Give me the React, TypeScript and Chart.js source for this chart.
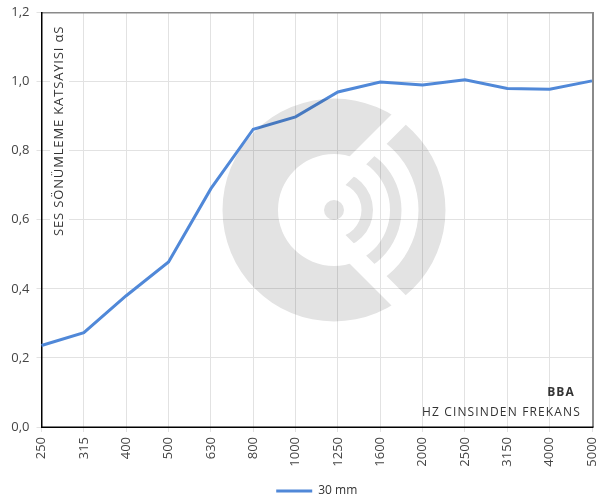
import React, { useEffect, useRef } from "react";
import { Chart, registerables } from "chart.js";

Chart.register(...registerables);

const categories = ["250", "315", "400", "500", "630", "800", "1000", "1250", "1600", "2000", "2500", "3150", "4000", "5000"];
const values30mm = [0.236, 0.273, 0.38, 0.478, 0.69, 0.862, 0.898, 0.97, 0.999, 0.99, 1.005, 0.98, 0.978, 1.002];
const seriesName = "30 mm";
const yAxisTitle = "SES SÖNÜMLEME KATSAYISI αS";
const noteBold = "BBA";
const noteText = "HZ CINSINDEN FREKANS";
const FONT = '"Open Sans", sans-serif';

const overlay = {
  id: "overlay",
  beforeDatasetsDraw(chart: any) {
    const { ctx, chartArea: a } = chart;
    ctx.save();
    // borders
    ctx.fillStyle = "#8a8a8a";
    ctx.fillRect(a.left, a.top - 0.5, a.right - a.left + 2, 1.5);
    ctx.fillRect(a.right, a.top, 2, a.bottom - a.top);
    ctx.fillStyle = "#000";
    ctx.fillRect(a.left - 0.5, a.top - 0.5, 1.5, a.bottom - a.top + 1);
    ctx.fillRect(a.left - 0.5, a.bottom - 0.5, a.right - a.left + 2, 1.5);

    // y-axis title with white backing
    ctx.fillStyle = "#fff";
    ctx.fillRect(50, 26, 19, 212);
    ctx.save();
    ctx.translate(63, 236);
    ctx.rotate(-Math.PI / 2);
    ctx.font = `13px ${FONT}`;
    (ctx as any).letterSpacing = "0.85px";
    ctx.fillStyle = "#333";
    ctx.textAlign = "left";
    ctx.textBaseline = "alphabetic";
    ctx.fillText(yAxisTitle, 0, 0);
    ctx.restore();

    // note text
    ctx.textAlign = "right";
    (ctx as any).letterSpacing = "1.15px";
    ctx.fillStyle = "#333";
    ctx.font = `bold 12px ${FONT}`;
    ctx.fillText(noteBold, 575, 393);
    ctx.font = `12px ${FONT}`;
    ctx.fillText(noteText, 581, 413);
    ctx.restore();
  },
  afterDraw(chart: any) {
    const { ctx } = chart;
    ctx.save();
    // watermark logo, over everything
    const cx = 334, cy = 210;
    ctx.globalCompositeOperation = "multiply";
    ctx.fillStyle = "#e3e3e3";
    const ring = (r0: number, r1: number) => {
      ctx.beginPath();
      ctx.arc(cx, cy, r1, 0, Math.PI * 2);
      ctx.moveTo(cx + r0, cy);
      ctx.arc(cx, cy, r0, 0, Math.PI * 2);
      ctx.fill("evenodd");
    };
    // C ring: outside the wedge with apex left of centre
    ctx.save();
    ctx.beginPath();
    ctx.moveTo(cx - 38, cy);
    ctx.lineTo(cx - 38 + 200, cy - 200);
    ctx.lineTo(0, cy - 200);
    ctx.lineTo(0, cy + 200);
    ctx.lineTo(cx - 38 + 200, cy + 200);
    ctx.closePath();
    ctx.clip();
    ring(56, 111.5);
    ctx.restore();
    // sound waves: inside the wedge
    ctx.save();
    ctx.beginPath();
    ctx.moveTo(cx - 13.5, cy);
    ctx.lineTo(cx - 13.5 + 200, cy - 200);
    ctx.lineTo(cx - 13.5 + 200, cy + 200);
    ctx.closePath();
    ctx.clip();
    ring(84.5, 111.5);
    ring(56, 67.5);
    ring(27.5, 39);
    ctx.restore();
    ctx.beginPath();
    ctx.arc(cx, cy, 10, 0, Math.PI * 2);
    ctx.fill();
    ctx.restore();
  },
};

export default function App() {
  const ref = useRef<HTMLCanvasElement>(null);
  useEffect(() => {
    document.body.style.margin = "0";
    const chart = new Chart(ref.current!, {
      type: "line",
      plugins: [overlay],
      data: {
        labels: categories,
        datasets: [
          {
            label: seriesName,
            data: values30mm,
            borderColor: "#5088d8",
            backgroundColor: "#5088d8",
            borderWidth: 3,
            pointRadius: 0,
            tension: 0,
            clip: false,
          } as any,
        ],
      },
      options: {
        responsive: false,
        animation: false,
        layout: { autoPadding: false, padding: { left: 0, right: 4, top: 12.5, bottom: -8 } },
        scales: {
          x: {
            offset: false,
            afterFit: (s: any) => { s.height = 55; s.paddingRight = 0; s.paddingLeft = 0; },
            grid: { color: "#e2e2e2", tickLength: 5 },
            border: { display: false },
            ticks: { font: { family: FONT, size: 13 }, color: "#444", maxRotation: 90, minRotation: 90, padding: 5, autoSkip: false },
          },
          y: {
            min: 0,
            max: 1.2,
            afterFit: (s: any) => { s.width = 41.5; s.paddingTop = 0; s.paddingBottom = 0; },
            grid: { color: "#e2e2e2", tickLength: 5 },
            border: { display: false },
            ticks: {
              stepSize: 0.2,
              font: { family: FONT, size: 13 },
              color: "#444",
              padding: 7,
              callback: (v: any) => Number(v).toFixed(1).replace(".", ","),
            },
          },
        },
        plugins: {
          tooltip: { enabled: false },
          legend: {
            position: "bottom",
            fullSize: false,
            labels: {
              font: { family: FONT, size: 12 },
              color: "#333",
              usePointStyle: true,
              pointStyle: "line",
              pointStyleWidth: 36,
              padding: 3,
            },
          },
        },
      },
    });
    return () => chart.destroy();
  }, []);
  return <canvas ref={ref} width={596} height={499} style={{ display: "block" }} />;
}
